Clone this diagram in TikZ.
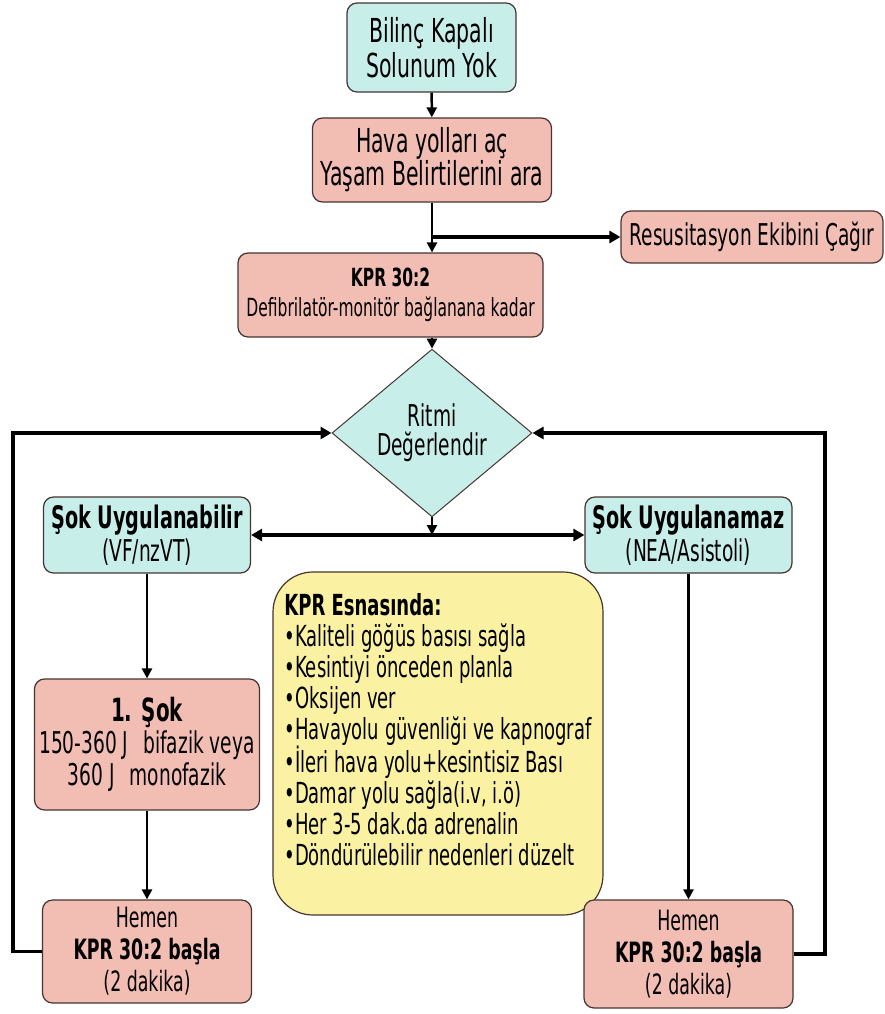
\documentclass[tikz,border=0pt]{standalone}
\usepackage{fontspec}
\setmainfont{DejaVu Sans}[FakeStretch=0.62]
\usetikzlibrary{shapes.geometric, arrows.meta}
\definecolor{cyanbox}{RGB}{200,238,234}
\definecolor{pinkbox}{RGB}{242,190,180}
\definecolor{yellowbox}{RGB}{250,242,162}
\definecolor{edgeline}{RGB}{70,52,50}

\begin{document}
\begin{tikzpicture}[x=1pt, y=-1pt,
  start/.style={rectangle, rounded corners=10pt, draw=edgeline, line width=1.2pt, fill=cyanbox, align=center, inner sep=0pt},
  process/.style={rectangle, rounded corners=10pt, draw=edgeline, line width=1.2pt, fill=pinkbox, align=center, inner sep=0pt},
  decision/.style={diamond, draw=edgeline, line width=1pt, fill=cyanbox, align=center, inner sep=0pt, minimum width=200pt, minimum height=123pt},
  note/.style={rectangle, rounded corners=40pt, draw=edgeline, line width=1.2pt, fill=yellowbox, align=left, inner sep=0pt},
  arrow/.style={line width=2.5pt, -{Triangle[length=10pt, width=10pt]}},
  loop/.style={line width=3.5pt, -{Triangle[length=11pt, width=12pt]}},
  both/.style={line width=3.5pt, {Triangle[length=11pt, width=12pt]}-{Triangle[length=11pt, width=12pt]}}
]
\useasboundingbox (0,0) rectangle (885,1014);

\node (start) [start, minimum width=169pt, minimum height=89pt, font=\fontsize{33}{35}\selectfont] at (431.5,47.5) {Bilinç Kapalı\\Solunum Yok};
\node (airway) [process, minimum width=239pt, minimum height=84pt, font=\fontsize{33}{31}\selectfont] at (432,160) {Hava yolları aç\\Yaşam Belirtilerini ara};
\node (team) [process, minimum width=262pt, minimum height=52pt, font=\fontsize{30}{30}\selectfont] at (752,237) {Resusitasyon Ekibini Çağır};
\node (cpr) [process, minimum width=305pt, minimum height=84pt, font=\fontsize{25}{30}\selectfont] at (390.5,295) {\textbf{KPR 30:2}\\Defibrilatör-monitör bağlanana kadar};
\node (rhythm) [decision, font=\fontsize{30}{29}\selectfont] at (432,433) {Ritmi\\Değerlendir};
\node (shock) [start, minimum width=207pt, minimum height=76pt, font=\fontsize{30}{33}\selectfont] at (147,535) {{\fontsize{31}{33}\selectfont\bfseries Şok Uygulanabilir}\\(VF/nzVT)};
\node (noshock) [start, minimum width=207pt, minimum height=76pt, font=\fontsize{30}{33}\selectfont] at (688.5,535) {{\fontsize{31}{33}\selectfont\bfseries Şok Uygulanamaz}\\(NEA/Asistoli)};
\node (during) [note, minimum width=330pt, minimum height=343pt, text depth=28pt, font=\fontsize{29}{31}\selectfont] at (438,743.5) {\textbf{KPR Esnasında:}\\•Kaliteli göğüs basısı sağla\\•Kesintiyi önceden planla\\•Oksijen ver\\•Havayolu güvenliği ve kapnograf\\•İleri hava yolu+kesintisiz Bası\\•Damar yolu sağla(i.v, i.ö)\\•Her 3-5 dak.da adrenalin\\•Döndürülebilir nedenleri düzelt};
\node (shockone) [process, minimum width=225pt, minimum height=131pt, font=\fontsize{30}{32}\selectfont] at (147,744.5) {{\fontsize{32}{34}\selectfont\bfseries 1. Şok}\\150-360 J\enspace bifazik veya\\360 J\enspace monofazik};
\node (cprleft) [process, minimum width=209pt, minimum height=103pt, font=\fontsize{28}{32}\selectfont] at (147,951.5) {Hemen\\\textbf{KPR 30:2 başla}\\(2 dakika)};
\node (cprright) [process, minimum width=209pt, minimum height=108pt, font=\fontsize{28}{32}\selectfont] at (688.5,954) {Hemen\\\textbf{KPR 30:2 başla}\\(2 dakika)};

\coordinate (leftrail) at (13,0);
\coordinate (rightrail) at (825,0);
\coordinate (split) at (rhythm.south |- shock.east);

\draw [arrow] (start) -- (airway);
\draw [arrow] (airway) -- (airway |- cpr.north);
\draw [loop] (airway |- team.west) -- (team.west);
\draw [arrow] (cpr.south -| rhythm.north) -- (rhythm.north);
\draw [arrow] (rhythm.south) -- (split);
\draw [both] (shock) -- (noshock);
\draw [arrow] (shock) -- (shockone);
\draw [arrow] (shockone) -- (cprleft);
\draw [arrow] (noshock) -- (cprright);
\draw [loop] (cprleft.west) -- (cprleft.west -| leftrail) -- (leftrail |- rhythm.west) -- (rhythm.west);
\draw [loop] (cprright.east) -- (cprright.east -| rightrail) -- (rightrail |- rhythm.east) -- (rhythm.east);

\end{tikzpicture}
\end{document}
